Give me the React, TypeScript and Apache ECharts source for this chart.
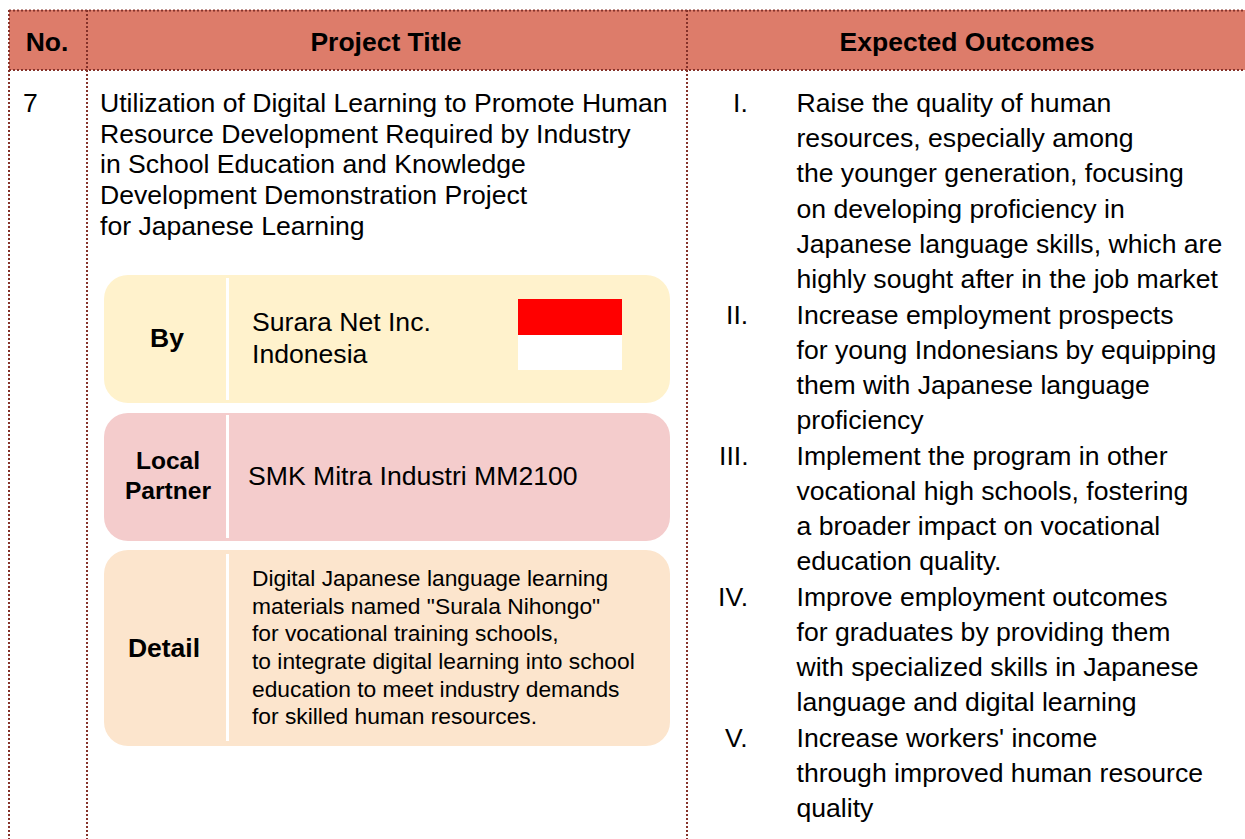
import React, { useEffect, useRef } from "react";
import * as echarts from "echarts";

const FONT = '"Liberation Sans", Arial, sans-serif';
const headers = ["No.", "Project Title", "Expected Outcomes"];
const rowNumber = "7";
const titleLines = [
  "Utilization of Digital Learning to Promote Human",
  "Resource Development Required by Industry",
  "in School Education and Knowledge",
  "Development Demonstration Project",
  "for Japanese Learning",
];
const outcomeNumerals = ["I.", "II.", "III.", "IV.", "V."];
const outcomeLines = [
  ["Raise the quality of human", "resources, especially among", "the younger generation, focusing", "on developing proficiency in", "Japanese language skills, which are", "highly sought after in the job market"],
  ["Increase employment prospects", "for young Indonesians by equipping", "them with Japanese language", "proficiency"],
  ["Implement the program in other", "vocational high schools, fostering", "a broader impact on vocational", "education quality."],
  ["Improve employment outcomes", "for graduates by providing them", "with specialized skills in Japanese", "language and digital learning"],
  ["Increase workers' income", "through improved human resource", "quality"],
];
const byLines = ["Surara Net Inc.", "Indonesia"];
const partnerLabel = ["Local", "Partner"];
const partnerName = "SMK Mitra Industri MM2100";
const detailLines = [
  "Digital Japanese language learning",
  'materials named "Surala Nihongo"',
  "for vocational training schools,",
  "to integrate digital learning into school",
  "education to meet industry demands",
  "for skilled human resources.",
];

const text = (t: string, x: number, y: number, size: number, bold = false, align = "left") => ({
  type: "text",
  x,
  y,
  style: {
    text: t,
    fontFamily: FONT,
    fontSize: size,
    fontWeight: bold ? "bold" : "normal",
    fill: "#000000",
    align,
    verticalAlign: "middle",
  },
});

const dotted = (x1: number, y1: number, x2: number, y2: number) => ({
  type: "line",
  shape: { x1, y1, x2, y2 },
  style: { stroke: "#85322a", lineWidth: 2, lineDash: [2, 2] },
});

const box = (y: number, h: number, fill: string, top: number, bottom: number) => [
  { type: "rect", shape: { x: 104, y, width: 566, height: h, r: 24 }, style: { fill } },
  { type: "rect", shape: { x: 226, y: top, width: 3, height: bottom - top }, style: { fill: "#ffffff" } },
];

function buildElements() {
  const els: any[] = [];
  els.push({ type: "rect", shape: { x: 9, y: 10, width: 1236, height: 60 }, style: { fill: "#dd7c6a" } });
  els.push(
    ...box(275, 128, "#fff2cc", 278, 400),
    ...box(413, 128, "#f4cccc", 415, 538),
    ...box(550, 196, "#fce5cd", 554, 741),
  );
  els.push({ type: "rect", shape: { x: 518, y: 299, width: 104, height: 36 }, style: { fill: "#ff0000" } });
  els.push({ type: "rect", shape: { x: 518, y: 335, width: 104, height: 35 }, style: { fill: "#ffffff" } });
  els.push(dotted(9, 10.5, 1245, 10.5), dotted(9, 70, 1245, 70));
  els.push(dotted(9, 10, 9, 839), dotted(87, 10, 87, 839), dotted(687, 10, 687, 839));

  els.push(text(headers[0], 47, 42, 26.5, true, "center"));
  els.push(text(headers[1], 386, 42, 26.5, true, "center"));
  els.push(text(headers[2], 967, 42, 26.5, true, "center"));
  els.push(text(rowNumber, 23, 103, 26.6));

  const titleY = [103, 134, 164, 195, 226];
  titleLines.forEach((t, i) => els.push(text(t, 100, titleY[i], 26.6)));

  els.push(text("By", 167, 338, 26.5, true, "center"));
  byLines.forEach((t, i) => els.push(text(t, 252, 322 + i * 32, 26.6)));
  els.push(text(partnerLabel[0], 168, 460.5, 24.6, true, "center"));
  els.push(text(partnerLabel[1], 168, 490.5, 24.6, true, "center"));
  els.push(text(partnerName, 248, 476, 26.6));
  els.push(text("Detail", 164, 648, 26.5, true, "center"));
  const detailY = [578, 605.5, 633, 661, 689, 716];
  detailLines.forEach((t, i) => els.push(text(t, 252, detailY[i], 22.8)));

  const numeralX = [733, 726, 719, 718, 725];
  const outcomeY = [103, 138, 173, 209, 244, 279, 315, 350, 385, 420, 456, 491, 526, 561, 597, 632, 667, 702, 738, 773, 808];
  let n = 0;
  outcomeLines.forEach((lines, g) => {
    els.push(text(outcomeNumerals[g], numeralX[g], outcomeY[n], 26.6));
    lines.forEach((t) => {
      els.push(text(t, 796.5, outcomeY[n], 26.6));
      n += 1;
    });
  });
  return els;
}

export default function App() {
  const ref = useRef<HTMLDivElement>(null);
  useEffect(() => {
    document.body.style.margin = "0";
    document.body.style.background = "#ffffff";
    const chart = echarts.init(ref.current!, undefined, { renderer: "svg" });
    chart.setOption({
      animation: false,
      backgroundColor: "#ffffff",
      graphic: { elements: buildElements() },
    });
    return () => chart.dispose();
  }, []);
  return <div ref={ref} style={{ position: "absolute", left: 0, top: 0, width: 1245, height: 839 }} />;
}
